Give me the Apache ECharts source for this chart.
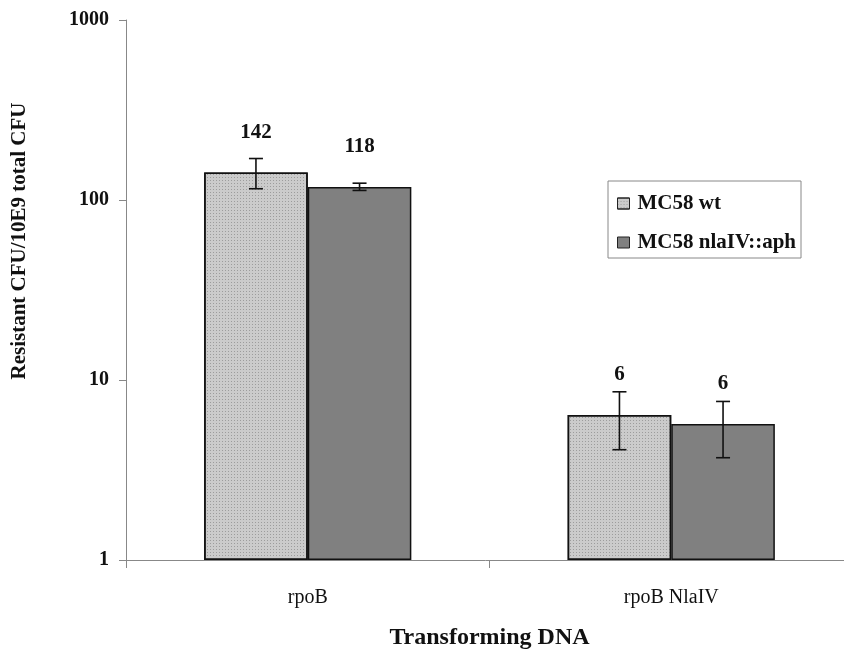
<!DOCTYPE html>
<html><head><meta charset="utf-8">
<script src="https://cdn.jsdelivr.net/npm/echarts@6/dist/echarts.min.js"></script>
<style>html,body{margin:0;padding:0;background:#fff}#c{width:844px;height:649px}</style>
</head><body><div id="c"></div>
<script>
const categories = ['rpoB', 'rpoB NlaIV'];
const seriesNames = ['MC58 wt', 'MC58 nlaIV::aph'];
const wtValues = [142, 6.4];
const mutValues = [118, 5.7];
const wtErrLow = [115.5, 4.1];
const wtErrHigh = [170, 8.6];
const mutErrLow = [113, 3.7];
const mutErrHigh = [124, 7.6];
const wtLabels = ['142', '6'];
const mutLabels = ['118', '6'];
const yTicks = [1, 10, 100, 1000];

const FONT = '"Liberation Serif", "Times New Roman", serif';
const GAP = 0.43;

function errSeries(low, high, side) {
  return {
    type: 'custom',
    silent: true,
    z: 10,
    data: categories.map((c, i) => [i, low[i], high[i]]),
    renderItem: function (params, api) {
      const idx = api.value(0);
      const catW = api.size([1, 1])[0];
      const bw = catW * (1 - GAP) / 2;
      const pLow = api.coord([idx, api.value(1)]);
      const pHigh = api.coord([idx, api.value(2)]);
      const x = pLow[0] + side * bw / 2;
      const cap = 7;
      const st = { stroke: '#111', lineWidth: 1.6 };
      return {
        type: 'group',
        children: [
          { type: 'line', shape: { x1: x, y1: pLow[1], x2: x, y2: pHigh[1] }, style: st },
          { type: 'line', shape: { x1: x - cap, y1: pLow[1], x2: x + cap, y2: pLow[1] }, style: st },
          { type: 'line', shape: { x1: x - cap, y1: pHigh[1], x2: x + cap, y2: pHigh[1] }, style: st }
        ]
      };
    }
  };
}

const barLabel = (labels) => ({
  show: true, position: 'top', distance: 30,
  fontFamily: FONT, fontSize: 21, fontWeight: 'bold', color: '#111',
  formatter: p => labels[p.dataIndex]
});

const chart = echarts.init(document.getElementById('c'));
chart.setOption({
  animation: false,
  backgroundColor: '#fff',
  grid: { left: 126, top: 20, width: 727, height: 540, containLabel: false, outerBoundsMode: 'none' },
  legend: {
    orient: 'vertical',
    left: 608, top: 181,
    padding: [12, 5, 5, 9],
    itemGap: 18,
    itemWidth: 12, itemHeight: 11,
    icon: 'rect',
    borderColor: '#888', borderWidth: 1,
    backgroundColor: '#fff',
    textStyle: { fontFamily: FONT, fontSize: 21, fontWeight: 'bold', color: '#111', padding: [0, 0, 0, 3] },
    data: seriesNames.map(n => ({ name: n, itemStyle: { borderColor: '#222', borderWidth: 1 } }))
  },
  graphic: [{
    type: 'text', x: 20, y: 241, rotation: Math.PI / 2,
    style: { text: 'Resistant CFU/10E9 total CFU', fontFamily: FONT, fontSize: 21, fontWeight: 'bold',
      fill: '#111', textAlign: 'center', textVerticalAlign: 'middle' }
  }],
  xAxis: {
    type: 'category',
    data: categories,
    name: 'Transforming DNA',
    nameLocation: 'middle',
    nameGap: 66,
    nameTextStyle: { fontFamily: FONT, fontSize: 24, fontWeight: 'bold', color: '#111' },
    axisLine: { lineStyle: { color: '#888', width: 1 } },
    axisTick: { show: true, alignWithLabel: false, length: 8, lineStyle: { color: '#888' } },
    axisLabel: { fontFamily: FONT, fontSize: 20, color: '#111', margin: 28 }
  },
  yAxis: {
    type: 'log',
    logBase: 10,
    min: yTicks[0], max: yTicks[yTicks.length - 1],
    axisLine: { show: true, lineStyle: { color: '#888', width: 1 } },
    axisTick: { show: true, length: 7, lineStyle: { color: '#888' } },
    minorTick: { show: false },
    splitLine: { show: false },
    axisLabel: { fontFamily: FONT, fontSize: 20, fontWeight: 'bold', color: '#111', margin: 17,
      formatter: v => String(v) }
  },
  series: [
    {
      name: seriesNames[0], type: 'bar', data: wtValues,
      barGap: '0%', barCategoryGap: (GAP * 100) + '%',
      itemStyle: { color: '#cbcbcb', borderColor: '#111', borderWidth: 1.5,
        decal: { symbol: 'rect', symbolSize: 1, color: 'rgba(100,100,100,0.45)',
          dashArrayX: [1, 2], dashArrayY: [1, 2], rotation: 0 } },
      label: barLabel(wtLabels)
    },
    {
      name: seriesNames[1], type: 'bar', data: mutValues,
      itemStyle: { color: '#808080', borderColor: '#111', borderWidth: 1.5 },
      label: barLabel(mutLabels)
    },
    errSeries(wtErrLow, wtErrHigh, -1),
    errSeries(mutErrLow, mutErrHigh, 1)
  ]
});
</script></body></html>
